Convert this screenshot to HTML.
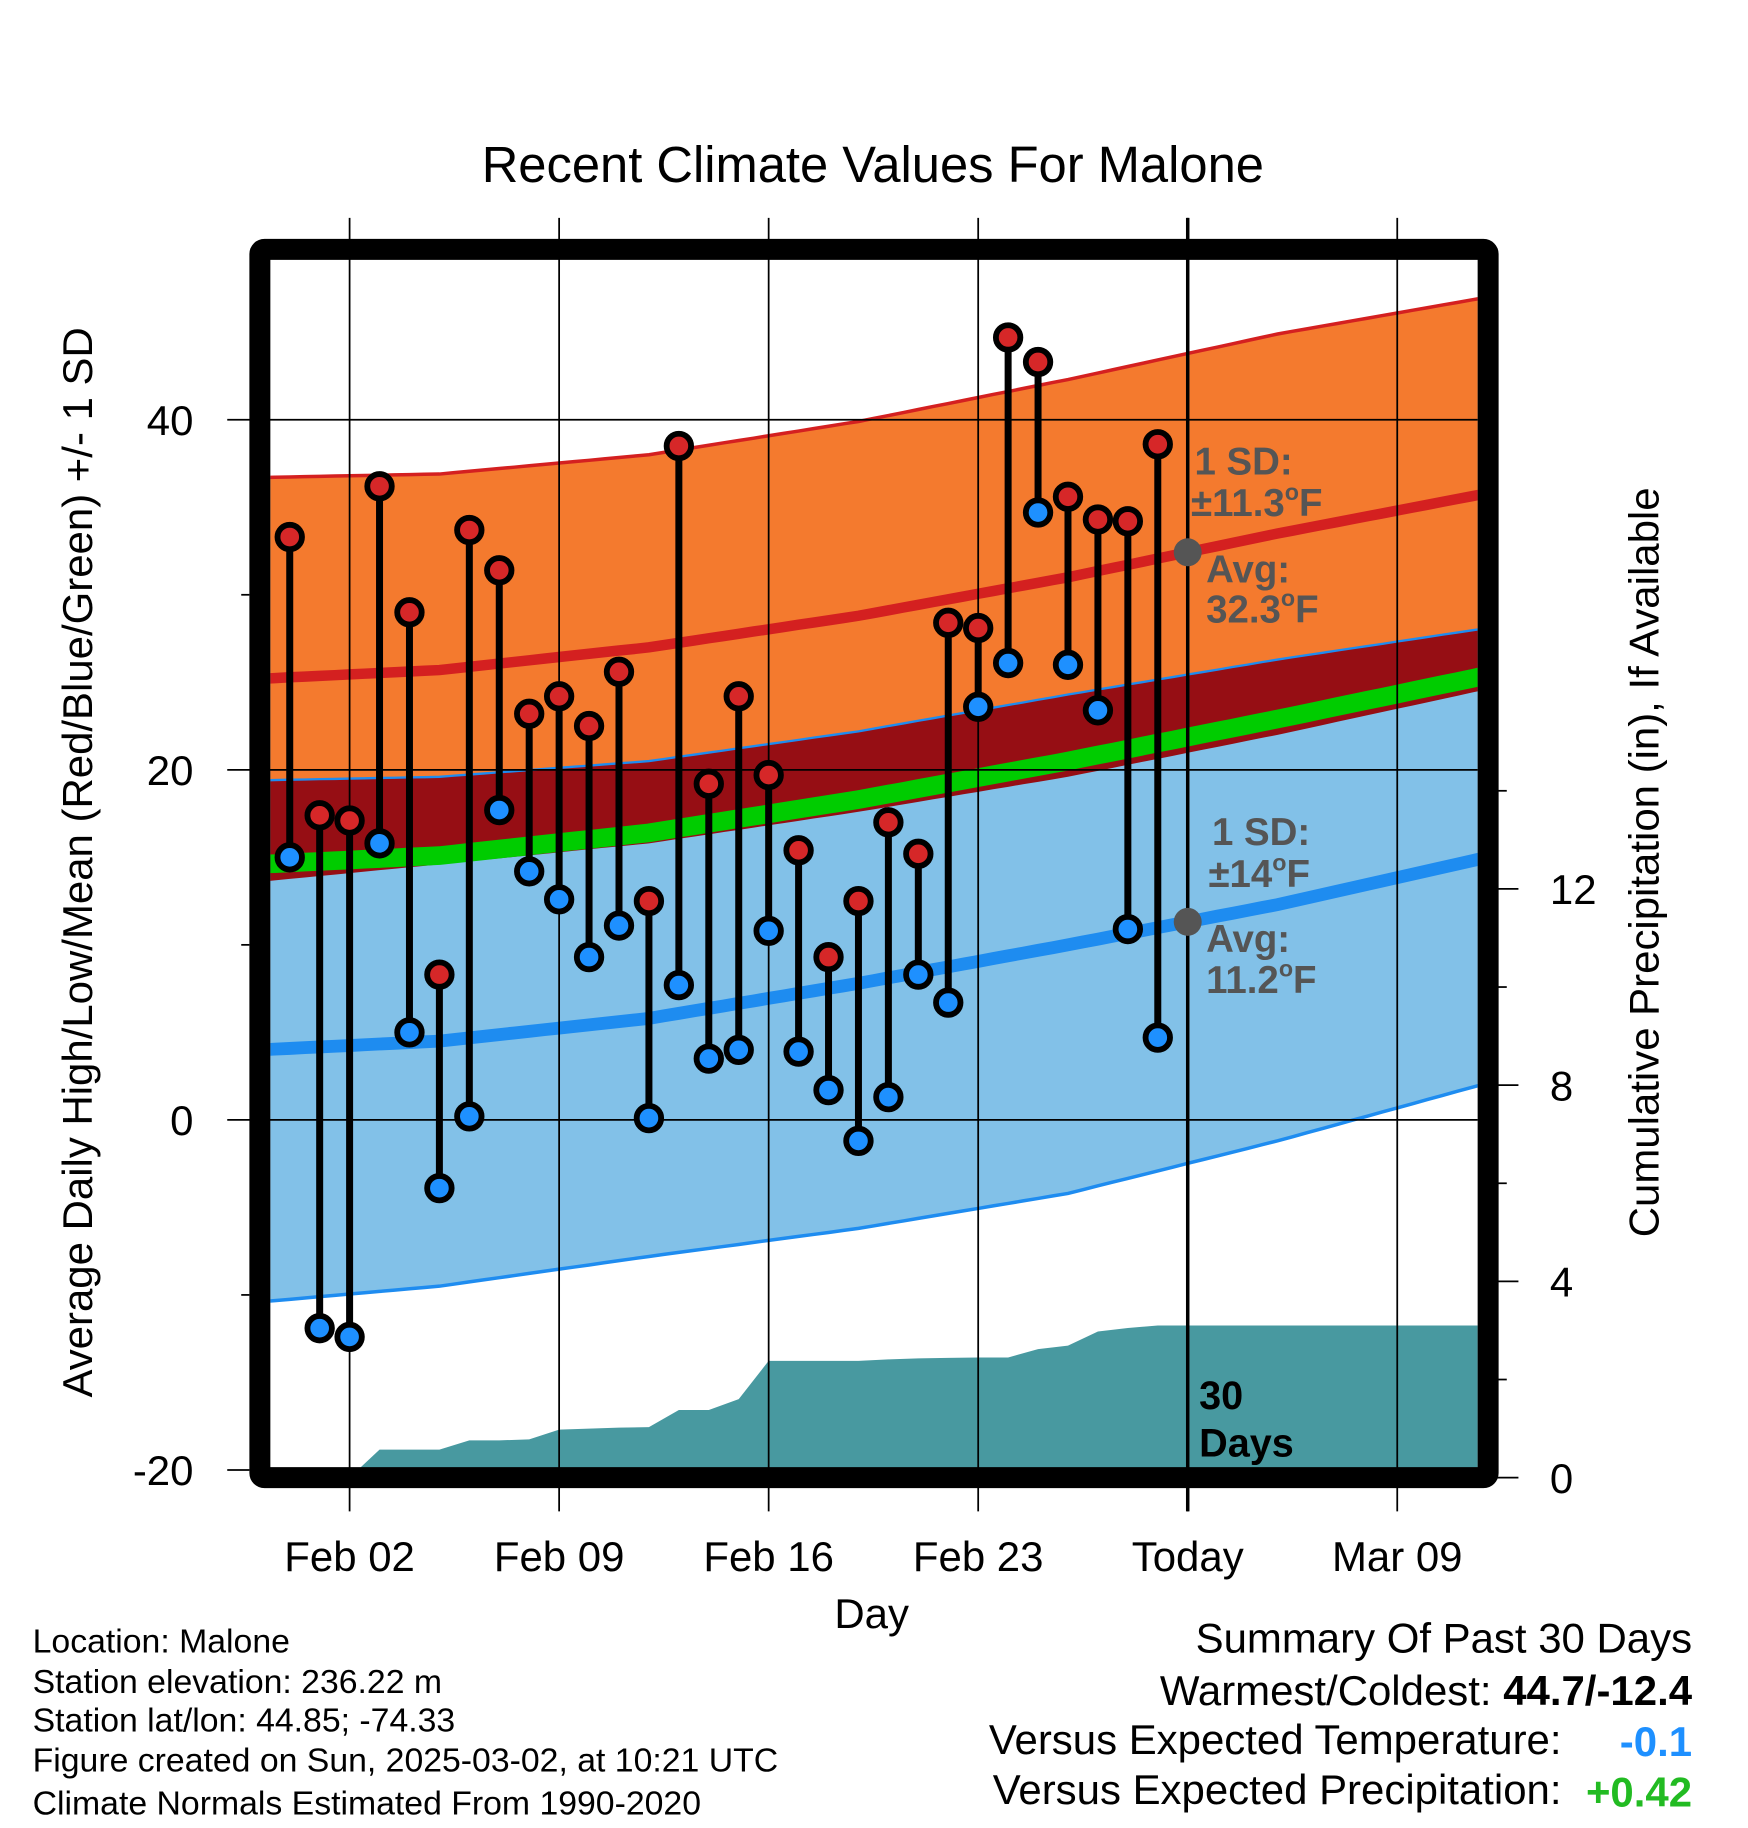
<!DOCTYPE html>
<html><head><meta charset="utf-8"><style>html,body{margin:0;padding:0;background:#fff}svg{display:block}text{font-family:"Liberation Sans",sans-serif}</style></head>
<body>
<svg id="chart" width="1748" height="1828" viewBox="0 0 1500 1568.65" xmlns="http://www.w3.org/2000/svg">
<text x="749" y="156" font-size="43.5" text-anchor="middle">Recent Climate Values For Malone</text>
<defs><clipPath id="plotclip"><rect x="232" y="223" width="1036" height="1037"/></clipPath></defs>
<g id="bands" clip-path="url(#plotclip)"></g>
<g id="grid"></g>
<g id="marks"></g>
<g id="annot">
<text x="1025" y="407" font-size="33" font-weight="bold" fill="#555">1 SD:</text>
<text x="1022" y="443" font-size="33" font-weight="bold" fill="#555">±11.3<tspan font-size="20" dy="-14">o</tspan><tspan dy="14">F</tspan></text>
<text x="1035" y="500" font-size="33" font-weight="bold" fill="#555">Avg:</text>
<text x="1035" y="534" font-size="33" font-weight="bold" fill="#555">32.3<tspan font-size="20" dy="-14">o</tspan><tspan dy="14">F</tspan></text>
<text x="1040" y="725" font-size="33" font-weight="bold" fill="#555">1 SD:</text>
<text x="1037" y="761" font-size="33" font-weight="bold" fill="#555">±14<tspan font-size="20" dy="-14">o</tspan><tspan dy="14">F</tspan></text>
<text x="1035" y="817" font-size="33" font-weight="bold" fill="#555">Avg:</text>
<text x="1035" y="852" font-size="33" font-weight="bold" fill="#555">11.2<tspan font-size="20" dy="-14">o</tspan><tspan dy="14">F</tspan></text>
<text x="1029" y="1209" font-size="34" font-weight="bold">30</text>
<text x="1029" y="1250" font-size="34" font-weight="bold">Days</text>
</g>
<text x="748" y="1397" font-size="36" text-anchor="middle">Day</text>
<text transform="translate(79,740) rotate(-90)" font-size="36" text-anchor="middle">Average Daily High/Low/Mean (Red/Blue/Green) +/- 1 SD</text>
<text transform="translate(1423,740) rotate(-90)" font-size="36" text-anchor="middle">Cumulative Precipitation (in), If Available</text>
<g font-size="29">
<text x="28" y="1418">Location: Malone</text>
<text x="28" y="1453">Station elevation: 236.22 m</text>
<text x="28" y="1486">Station lat/lon: 44.85; -74.33</text>
<text x="28" y="1520">Figure created on Sun, 2025-03-02, at 10:21 UTC</text>
<text x="28" y="1557">Climate Normals Estimated From 1990-2020</text>
</g>
<g font-size="36">
<text x="1452" y="1418" text-anchor="end">Summary Of Past 30 Days</text>
<text x="1452" y="1463" text-anchor="end">Warmest/Coldest: <tspan font-weight="bold">44.7/-12.4</tspan></text>
<text x="1340" y="1505" text-anchor="end">Versus Expected Temperature:</text>
<text x="1452" y="1507" text-anchor="end" font-weight="bold" fill="#1e90ff">-0.1</text>
<text x="1340" y="1548" text-anchor="end">Versus Expected Precipitation:</text>
<text x="1452" y="1550" text-anchor="end" font-weight="bold" fill="#22bb22">+0.42</text>
</g>
</svg>
<script>
const highs=[33.3,17.4,17.1,36.2,29.0,8.3,33.7,31.4,23.2,24.2,22.5,25.6,12.5,38.5,19.2,24.2,19.7,15.4,9.3,12.5,17.0,15.2,28.4,28.1,44.7,43.3,35.6,34.3,34.2,38.6];
const lows=[15.0,-11.9,-12.4,15.8,5.0,-3.9,0.2,17.7,14.2,12.6,9.3,11.1,0.1,7.7,3.5,4.0,10.8,3.9,1.7,-1.2,1.3,8.3,6.7,23.6,26.1,34.7,26.0,23.4,10.9,4.7];
const precip=[0,0,0,0.57,0.57,0.57,0.76,0.76,0.78,0.98,1.0,1.02,1.03,1.38,1.38,1.6,2.38,2.38,2.38,2.38,2.41,2.43,2.44,2.45,2.45,2.62,2.69,2.98,3.05,3.1];
const normDays=[-1,5,12,19,26,33,40];
const hiUpper=[36.7,36.9,38.0,39.9,42.3,44.9,47.0];
const hiAvg=[25.2,25.7,27.0,28.8,31.0,33.5,35.8];
const hiLower=[13.6,14.6,15.8,17.6,19.6,22.0,24.6];
const loUpper=[19.4,19.6,20.5,22.2,24.3,26.3,28.1];
const loAvg=[4.0,4.5,5.8,7.8,10.0,12.3,15.0];
const loLower=[-10.4,-9.5,-7.8,-6.2,-4.2,-1.2,2.1];
const xTickDays=[2,9,16,23,30,37];
const xTickLabels=["Feb 02","Feb 09","Feb 16","Feb 23","Today","Mar 09"];
const yTicks=[40,20,0,-20];
const yMinor=[30,10,-10];
const pTicks=[0,4,8,12];
const pMinor=[2,6,10,14];
const todayDay=30;

const NS="http://www.w3.org/2000/svg";
const X=d=>300+(d-2)*25.686;
const Y=t=>961-15.02*t;
const PY=p=>1268-42.1*p;
function mk(tag,attrs,parent){const el=document.createElementNS(NS,tag);for(const k in attrs)el.setAttribute(k,attrs[k]);parent.appendChild(el);return el;}
function interp(arr,d){for(let i=0;i<normDays.length-1;i++){if(d<=normDays[i+1]){const f=(d-normDays[i])/(normDays[i+1]-normDays[i]);return arr[i]+f*(arr[i+1]-arr[i]);}}return arr[arr.length-1];}
const samples=[];for(let d=-1;d<=40.01;d+=0.5)samples.push(d);
const lineOf=arr=>samples.map(d=>X(d).toFixed(1)+","+Y(interp(arr,d)).toFixed(1));
const band=(a,b)=>lineOf(a).concat(lineOf(b).reverse()).join(" ");
const bands=document.getElementById("bands");
let e;
e=mk("polygon",{points:band(hiUpper,hiLower),fill:"#f47a2e"},bands);


e=mk("polygon",{points:band(loUpper,loLower),fill:"#82c1e8"},bands);


e=mk("polygon",{points:band(loUpper,hiLower),fill:"#960e14"},bands);


const meanArr=hiAvg.map((v,i)=>(v+loAvg[i])/2);
e=mk("polyline",{points:lineOf(meanArr).join(" "),fill:"none",stroke:"#00cc00","stroke-width":16},bands);


e=mk("polyline",{points:lineOf(hiUpper).join(" "),fill:"none",stroke:"#d42020","stroke-width":3},bands);


e=mk("polyline",{points:lineOf(hiAvg).join(" "),fill:"none",stroke:"#d42020","stroke-width":9},bands);


e=mk("polyline",{points:lineOf(loUpper).join(" "),fill:"none",stroke:"#1e8cf0","stroke-width":2},bands);


e=mk("polyline",{points:lineOf(loLower).join(" "),fill:"none",stroke:"#1e8cf0","stroke-width":3},bands);


e=mk("polyline",{points:lineOf(loAvg).join(" "),fill:"none",stroke:"#1e8cf0","stroke-width":11},bands);


let pp=[X(2)+","+PY(0)];
precip.forEach((p,i)=>{if(i>=2)pp.push(X(i)+","+PY(p));});
pp.push(X(41)+","+PY(precip[precip.length-1]));pp.push(X(41)+","+PY(0));
e=mk("polygon",{points:pp.join(" "),fill:"#4899a0"},bands);



const grid=document.getElementById("grid");
xTickDays.forEach((d,i)=>{
  e=mk("line",{x1:X(d),x2:X(d),y1:187,y2:1297,stroke:"#000","stroke-width":1.5},grid);
  
  
  e=mk("text",{x:X(d),y:1348,"font-size":36,"text-anchor":"middle"},grid);e.textContent=xTickLabels[i];
  
  
});
yTicks.forEach(t=>{
  e=mk("line",{x1:195,x2:t===-20?214:1268,y1:Y(t),y2:Y(t),stroke:"#000","stroke-width":1.5},grid);
  
  
  e=mk("text",{x:166,y:Y(t)+13,"font-size":36,"text-anchor":"end"},grid);e.textContent=t;
  
  
});
yMinor.forEach(t=>{e=mk("line",{x1:207,x2:214,y1:Y(t),y2:Y(t),stroke:"#000","stroke-width":1.5},grid);
  
  });
pTicks.forEach(p=>{
  e=mk("line",{x1:1285,x2:1303,y1:PY(p),y2:PY(p),stroke:"#000","stroke-width":1.5},grid);
  
  
  e=mk("text",{x:1330,y:PY(p)+13,"font-size":36},grid);e.textContent=p;
  
  
});
pMinor.forEach(p=>{e=mk("line",{x1:1285,x2:1293,y1:PY(p),y2:PY(p),stroke:"#000","stroke-width":1.5},grid);
  
  });

const marks=document.getElementById("marks");
highs.forEach((h,i)=>{
  e=mk("line",{x1:X(i),x2:X(i),y1:Y(h),y2:Y(lows[i]),stroke:"#000","stroke-width":6},marks);
  
  
});
highs.forEach((h,i)=>{
  e=mk("circle",{cx:X(i),cy:Y(h),r:10.5,fill:"#d62728",stroke:"#000","stroke-width":5},marks);
  
  
  e=mk("circle",{cx:X(i),cy:Y(lows[i]),r:10.5,fill:"#1e90ff",stroke:"#000","stroke-width":5},marks);
  
  
});
e=mk("line",{x1:X(todayDay),x2:X(todayDay),y1:187,y2:1297,stroke:"#000","stroke-width":3},marks);


e=mk("circle",{cx:X(todayDay),cy:Y(interp(hiAvg,todayDay)),r:12,fill:"#555"},marks);


e=mk("circle",{cx:X(todayDay),cy:Y(interp(loAvg,todayDay)),r:12,fill:"#555"},marks);


e=mk("rect",{x:223,y:214,width:1054,height:1054,rx:4,fill:"none",stroke:"#000","stroke-width":18},marks);


</script>
</body></html>
